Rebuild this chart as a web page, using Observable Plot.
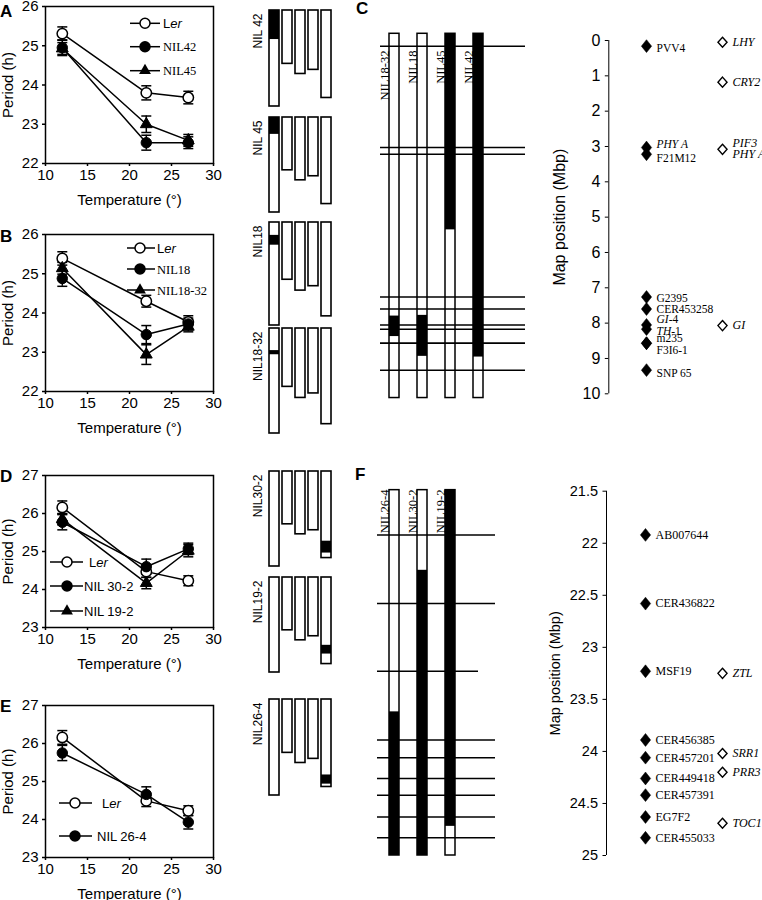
<!DOCTYPE html>
<html><head><meta charset="utf-8">
<script src="https://cdn.jsdelivr.net/npm/d3@7"></script>
<script src="https://cdn.jsdelivr.net/npm/@observablehq/plot@0.6"></script>
<style>
body{margin:0;background:#fff;}
#fig{position:relative;width:762px;height:900px;overflow:hidden;background:#fff;}
#fig svg{position:absolute;margin:0;max-width:none;}
</style></head><body><div id="fig"></div>
<script>
const SANS = '"Liberation Sans", Arial, Helvetica, sans-serif';
const SERIF = '"Liberation Serif", "Times New Roman", serif';

// ---------- Panels A, B, D, E: period vs temperature ----------
const temps = [12, 22, 27];
const aLer = [25.31, 23.80, 23.68], aLerErr = [0.17, 0.18, 0.16];
const aNIL42 = [24.95, 22.53, 22.53], aNIL42Err = [0.20, 0.19, 0.15];
const aNIL45 = [24.93, 23.00, 22.59], aNIL45Err = [0.15, 0.21, 0.15];
const bLer = [25.39, 24.30, 23.77], bLerErr = [0.17, 0.15, 0.16];
const bNIL18 = [24.88, 23.45, 23.72], bNIL18Err = [0.20, 0.23, 0.15];
const bNIL1832 = [25.14, 22.94, 23.65], bNIL1832Err = [0.15, 0.25, 0.13];
const dLer = [26.16, 24.47, 24.23], dLerErr = [0.17, 0.15, 0.13];
const dNIL302 = [25.77, 24.60, 25.07], dNIL302Err = [0.20, 0.20, 0.15];
const dNIL192 = [25.85, 24.17, 25.02], dNIL192Err = [0.15, 0.15, 0.16];
const eLer = [26.16, 24.49, 24.23], eLerErr = [0.18, 0.15, 0.13];
const eNIL264 = [25.75, 24.66, 23.93], eNIL264Err = [0.20, 0.20, 0.18];
const tempTicks = [10, 15, 20, 25, 30];

// ---------- Chromosome diagrams ----------
const chrNames = ["1", "2", "3", "4", "5"];
const chrLen = [30.4, 16.9, 20.1, 18.8, 27.7];
const introNIL = ["NIL 42", "NIL 45", "NIL18", "NIL18-32", "NIL30-2", "NIL19-2", "NIL26-4"];
const introChr = ["1", "1", "1", "1", "5", "5", "5"];
const introStart = [0, 0, 3.8, 6.4, 22.3, 21.7, 23.9];
const introEnd = [9.2, 5.4, 6.7, 7.6, 26.1, 24.5, 26.8];

// ---------- Panel C ----------
const cNILs = ["NIL18-32", "NIL18", "NIL45", "NIL42"];
const cBarStart = -0.19, cBarEnd = 10.12;
const cBlackStart = [7.80, 7.78, -0.19, -0.19];
const cBlackEnd = [8.38, 8.94, 5.36, 8.96];
const cMarkerNames = ["PVV4", "PHY A", "F21M12", "G2395", "CER453258", "GI-4", "TH-1", "m235", "F3I6-1", "SNP 65"];
const cMarkerPos = [0.16, 3.03, 3.22, 7.26, 7.60, 8.05, 8.17, 8.57, 8.57, 9.33];
const cLabelPos = [0.22, 2.94, 3.33, 7.30, 7.61, 7.90, 8.24, 8.43, 8.77, 9.42];
const cGeneNames = ["LHY", "CRY2", "PIF3\nPHY A", "GI"];
const cGenePos = [0.05, 1.18, 3.08, 8.07];
const cTicks = [0, 1, 2, 3, 4, 5, 6, 7, 8, 9, 10];

// ---------- Panel F ----------
const fNILs = ["NIL26-4", "NIL30-2", "NIL19-2"];
const fBarStart = 21.49, fBarEnd = 25.0;
const fBlackStart = [23.62, 22.26, 21.49];
const fBlackEnd = [25.0, 25.0, 24.72];
const fMarkerNames = ["AB007644", "CER436822", "MSF19", "CER456385", "CER457201", "CER449418", "CER457391", "EG7F2", "CER455033"];
const fMarkerPos = [21.92, 22.58, 23.23, 23.89, 24.06, 24.26, 24.42, 24.63, 24.83];
const fGeneNames = ["ZTL", "SRR1", "PRR3", "TOC1"];
const fGenePos = [23.25, 24.02, 24.20, 24.69];
const fTicks = [21.5, 22, 22.5, 23, 23.5, 24, 24.5, 25];

// ---------- helpers ----------
const fig = document.getElementById("fig");
function place(el, left, top) {
  el.style.left = left + "px"; el.style.top = top + "px";
  fig.appendChild(el);
}
const capSymbol = {draw(ctx) { ctx.moveTo(-5, 0); ctx.lineTo(5, 0); }};
function diamondSymbol(ratio) {
  return {draw(ctx, size) {
    const r = Math.sqrt(size / Math.PI), h = r * 1.15, w = h * ratio;
    ctx.moveTo(0, -h); ctx.lineTo(w, 0); ctx.lineTo(0, h); ctx.lineTo(-w, 0); ctx.closePath();
  }};
}
const baseStyle = {fontFamily: SANS, fontSize: "15px", color: "black", background: "none", overflow: "visible"};
const fmt = d => `${d}`;

function linePanel(series, yDomain, frameH) {
  const rows = series.flatMap(s => temps.map((t, i) => ({series: s.name, kind: s.kind, t, m: s.mean[i], e: s.err[i]})));
  const yt = d3.range(yDomain[0], yDomain[1] + 1);
  return Plot.plot({
    width: 230, height: 6 + frameH + 52,
    marginLeft: 45, marginRight: 17, marginTop: 6, marginBottom: 52,
    style: baseStyle,
    x: {domain: [10, 30]},
    y: {domain: yDomain},
    marks: [
      Plot.axisX({ticks: tempTicks, tickFormat: fmt, tickSize: 3, tickPadding: 3, strokeWidth: 1.5, fontSize: 15,
        label: "Temperature (°)", labelAnchor: "center", labelOffset: 41, labelArrow: "none"}),
      Plot.axisY({ticks: yt, tickFormat: fmt, tickSize: 3, tickPadding: 4, strokeWidth: 1.5, fontSize: 15,
        label: "Period (h)", labelAnchor: "center", labelOffset: 43, labelArrow: "none"}),
      Plot.frame({strokeWidth: 1.5}),
      Plot.ruleX(rows, {x: "t", y1: d => d.m - d.e, y2: d => d.m + d.e, strokeWidth: 1.5}),
      Plot.dot(rows, {x: "t", y: d => d.m - d.e, symbol: capSymbol, fill: "none", stroke: "black", strokeWidth: 1.5}),
      Plot.dot(rows, {x: "t", y: d => d.m + d.e, symbol: capSymbol, fill: "none", stroke: "black", strokeWidth: 1.5}),
      Plot.line(rows, {x: "t", y: "m", z: "series", stroke: "black", strokeWidth: 1.5}),
      Plot.dot(rows.filter(d => d.kind === "open"), {x: "t", y: "m", r: 5.2, fill: "white", stroke: "black", strokeWidth: 1.5}),
      Plot.dot(rows.filter(d => d.kind === "triangle"), {x: "t", y: "m", r: 4.4, symbol: "triangle", fill: "black", stroke: "black", strokeWidth: 1}),
      Plot.dot(rows.filter(d => d.kind === "filled"), {x: "t", y: "m", r: 5.2, fill: "black", stroke: "black", strokeWidth: 1})
    ]
  });
}

place(linePanel([
  {name: "Ler", kind: "open", mean: aLer, err: aLerErr},
  {name: "NIL42", kind: "filled", mean: aNIL42, err: aNIL42Err},
  {name: "NIL45", kind: "triangle", mean: aNIL45, err: aNIL45Err}], [22, 26], 157), 0, 0);
place(linePanel([
  {name: "Ler", kind: "open", mean: bLer, err: bLerErr},
  {name: "NIL18", kind: "filled", mean: bNIL18, err: bNIL18Err},
  {name: "NIL18-32", kind: "triangle", mean: bNIL1832, err: bNIL1832Err}], [22, 26], 157), 0, 228);
place(linePanel([
  {name: "Ler", kind: "open", mean: dLer, err: dLerErr},
  {name: "NIL 30-2", kind: "filled", mean: dNIL302, err: dNIL302Err},
  {name: "NIL 19-2", kind: "triangle", mean: dNIL192, err: dNIL192Err}], [23, 27], 152), 0, 469);
place(linePanel([
  {name: "Ler", kind: "open", mean: eLer, err: eLerErr},
  {name: "NIL 26-4", kind: "filled", mean: eNIL264, err: eNIL264Err}], [23, 27], 152), 0, 699);

// ---------- chromosome diagrams ----------
const chroms = chrNames.map((c, i) => ({chr: c, len: chrLen[i]}));
const intro = introNIL.map((n, i) => ({nil: n, chr: introChr[i], start: introStart[i], end: introEnd[i]}));
function chromPlot(nil, px) {
  return Plot.plot({
    width: 100, height: px + 4, marginLeft: 27.3, marginRight: 7.7, marginTop: 2, marginBottom: 2,
    style: baseStyle,
    x: {type: "band", domain: chrNames, paddingInner: 0.235, paddingOuter: 0, axis: null},
    y: {domain: [0, 30.4], reverse: true, axis: null},
    marks: [
      Plot.barY(chroms, {x: "chr", y1: 0, y2: "len", fill: "white", stroke: "black", strokeWidth: 1.6}),
      Plot.barY(intro.filter(d => d.nil === nil), {x: "chr", y1: "start", y2: "end", fill: "black"}),
      Plot.text([nil], {frameAnchor: "top-left", dx: -14, dy: 3, rotate: -90, textAnchor: "end", fontSize: 12, fontFamily: SANS})
    ]
  });
}
const groupLayout = {"NIL 42": [10, 96], "NIL 45": [117, 95], "NIL18": [222, 103], "NIL18-32": [328, 105],
  "NIL30-2": [471, 95], "NIL19-2": [577, 95], "NIL26-4": [699, 96]};
for (const n of introNIL) place(chromPlot(n, groupLayout[n][1]), 240, groupLayout[n][0] - 2);

// ---------- NIL bar columns (C and F) ----------
function nilColumns(nils, barStart, barEnd, bStart, bEnd, lines, cfg) {
  const bars = nils.map(n => ({nil: n, start: barStart, end: barEnd}));
  const blacks = nils.map((n, i) => ({nil: n, start: bStart[i], end: bEnd[i]}));
  return Plot.plot({
    width: cfg.width, height: cfg.height,
    marginLeft: cfg.ml, marginRight: cfg.mr, marginTop: cfg.mt, marginBottom: cfg.mb,
    style: baseStyle,
    x: {type: "band", domain: nils, paddingInner: cfg.pi, paddingOuter: cfg.po, align: cfg.align, axis: null},
    y: {domain: cfg.domain, reverse: true, axis: null},
    marks: [
      Plot.barY(bars, {x: "nil", y1: "start", y2: "end", fill: "white", stroke: "black", strokeWidth: 1.5}),
      Plot.barY(blacks, {x: "nil", y1: "start", y2: "end", fill: "black"}),
      Plot.ruleY(lines.filter(d => !d.short), {y: "pos", strokeWidth: 1.5}),
      Plot.ruleY(lines.filter(d => d.short), {y: "pos", strokeWidth: 1.5, insetRight: 17}),
      Plot.text(nils, {x: d => d, frameAnchor: "top", dx: cfg.ldx, dy: cfg.ldy, rotate: -90, textAnchor: "end", fontFamily: SERIF, fontSize: 12.5})
    ]
  });
}
function markerAxis(markers, genes, cfg) {
  return Plot.plot({
    width: cfg.width, height: cfg.height,
    marginLeft: cfg.ml, marginRight: cfg.mr, marginTop: cfg.mt, marginBottom: cfg.mb,
    style: baseStyle,
    x: {type: "point", domain: ["marker", "gene"], padding: cfg.pad, axis: null},
    y: {domain: cfg.domain, reverse: true},
    marks: [
      Plot.axisY({ticks: cfg.ticks, tickFormat: fmt, tickSize: 3.5, tickPadding: 5, fontSize: cfg.fs,
        label: "Map position (Mbp)", labelAnchor: "center", labelOffset: cfg.lo, labelArrow: "none"}),
      Plot.ruleX(["marker"], {x: d => d, y1: cfg.domain[0], y2: cfg.domain[1], dx: -cfg.axisDx, strokeWidth: 1}),
      Plot.dot(markers, {x: () => "marker", y: "pos", r: 5.6, symbol: diamondSymbol(0.8), fill: "black", stroke: "black", strokeWidth: 0.5}),
      Plot.text(markers, {x: () => "marker", y: "labelPos", text: "name", textAnchor: "start", dx: 10, fontFamily: SERIF, fontSize: cfg.lfs}),
      Plot.dot(genes, {x: () => "gene", y: "pos", r: 4.4, symbol: diamondSymbol(0.9), fill: "white", stroke: "black", strokeWidth: 1.4}),
      Plot.text(genes, {x: () => "gene", y: "pos", text: "name", textAnchor: "start", dx: 10, fontFamily: SERIF, fontSize: 12, fontStyle: "italic", lineHeight: 0.9})
    ]
  });
}
function italicize(svg) {
  d3.select(svg).selectAll("text").each(function() {
    const t = this.textContent;
    if (t === "GI-4" || t === "TH-1") {
      const [a, b] = t.split("-");
      this.textContent = "";
      d3.select(this).append("tspan").attr("font-style", "italic").text(a);
      d3.select(this).append("tspan").text("-" + b);
    } else if (t === "PHY A" && this.getAttribute("font-style") !== "italic") {
      this.setAttribute("font-style", "italic");
    }
  });
  return svg;
}

// C
const cLines = cMarkerPos.map(p => ({pos: p, short: false}));
place(nilColumns(cNILs, cBarStart, cBarEnd, cBlackStart, cBlackEnd, cLines,
  {width: 170, height: 410, ml: 10, mr: 15, mt: 40, mb: 16.7, pi: 0.633, po: 0.825, align: 0.174,
   domain: [0, 10], ldx: -14, ldy: 10}), 370, 0);
const cMarkers = cMarkerNames.map((n, i) => ({name: n, pos: cMarkerPos[i], labelPos: cLabelPos[i]}));
const cGenes = cGeneNames.map((n, i) => ({name: n, pos: cGenePos[i]}));
place(italicize(markerAxis(cMarkers, cGenes,
  {width: 222, height: 410, ml: 68.3, mr: 2, mt: 40, mb: 16.7, pad: 0.494, domain: [0, 10], ticks: cTicks,
   fs: 16, lo: 55, axisDx: 37.7, lfs: 11.5})), 540, 0);

// F
const fLines = fMarkerPos.map((p, i) => ({pos: p, short: fMarkerNames[i] === "MSF19"}));
place(nilColumns(fNILs, fBarStart, fBarEnd, fBlackStart, fBlackEnd, fLines,
  {width: 130, height: 415, ml: 7, mr: 5, mt: 40.7, mb: 10, pi: 0.642, po: 0.87, align: 0.24,
   domain: [21.5, 25], ldx: -14.5, ldy: -1.7}), 370, 450);
const fMarkers = fMarkerNames.map((n, i) => ({name: n, pos: fMarkerPos[i], labelPos: fMarkerPos[i]}));
const fGenes = fGeneNames.map((n, i) => ({name: n, pos: fGenePos[i]}));
place(markerAxis(fMarkers, fGenes,
  {width: 222, height: 415, ml: 66, mr: 0.3, mt: 40.7, mb: 10, pad: 0.502, domain: [21.5, 25], ticks: fTicks,
   fs: 14.5, lo: 57, axisDx: 39, lfs: 12}), 540, 450);

// ---------- overlay: legends and panel letters ----------
const ov = d3.create("svg").attr("width", 762).attr("height", 900).style("left", "0px").style("top", "0px")
  .style("pointer-events", "none").attr("font-family", SANS);
function legend(items, cfg) {
  items.forEach((it, i) => {
    const y = cfg.ys[i];
    const xt = Array.isArray(cfg.xt) ? cfg.xt[i] : cfg.xt;
    ov.append("line").attr("x1", cfg.x1).attr("x2", cfg.x2).attr("y1", y).attr("y2", y).attr("stroke", "black").attr("stroke-width", 1.5);
    if (it.kind === "triangle") {
      ov.append("path").attr("d", d3.symbol(d3.symbolTriangle, Math.PI * 4.4 * 4.4)()).attr("transform", `translate(${cfg.xm},${y})`).attr("fill", "black");
    } else {
      ov.append("circle").attr("cx", cfg.xm).attr("cy", y).attr("r", 5).attr("fill", it.kind === "open" ? "white" : "black").attr("stroke", "black").attr("stroke-width", 1.5);
    }
    const t = ov.append("text").attr("x", xt).attr("y", y).attr("dy", "0.36em");
    if (it.label === "Ler") {
      t.attr("font-family", SANS).attr("font-size", 13);
      t.append("tspan").text("L");
      t.append("tspan").attr("font-style", "italic").text("er");
    } else {
      t.attr("font-family", cfg.serif ? SERIF : SANS).attr("font-size", cfg.serif ? 12.5 : 13).text(it.label);
    }
  });
}
legend([{label: "Ler", kind: "open"}, {label: "NIL42", kind: "filled"}, {label: "NIL45", kind: "triangle"}],
  {x1: 130, x2: 160, xm: 145, xt: 163, ys: [23.3, 46.7, 70.7], serif: true});
legend([{label: "Ler", kind: "open"}, {label: "NIL18", kind: "filled"}, {label: "NIL18-32", kind: "triangle"}],
  {x1: 127, x2: 155, xm: 140, xt: 157, ys: [248, 269, 290], serif: true});
legend([{label: "Ler", kind: "open"}, {label: "NIL 30-2", kind: "filled"}, {label: "NIL 19-2", kind: "triangle"}],
  {x1: 50, x2: 83, xm: 67, xt: [89, 84, 84], ys: [562, 586, 611], serif: false});
legend([{label: "Ler", kind: "open"}, {label: "NIL 26-4", kind: "filled"}],
  {x1: 59, x2: 92, xm: 75, xt: [102, 97], ys: [803, 836], serif: false});
const letters = [["A", 0, 17], ["B", 0, 242], ["C", 356, 14], ["D", 0, 482], ["E", 0, 712], ["F", 355, 480]];
for (const [l, x, y] of letters) ov.append("text").attr("x", x).attr("y", y).attr("font-weight", "bold").attr("font-size", 17).text(l);
fig.appendChild(ov.node());
</script></body></html>
